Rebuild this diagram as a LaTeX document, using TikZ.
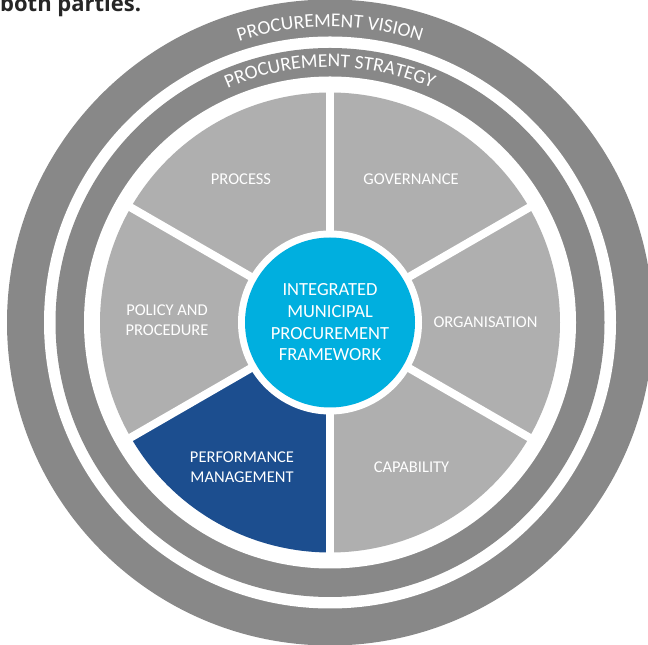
\documentclass[tikz,border=0pt]{standalone}
\usepackage{fontspec}
\setmainfont{Carlito}
\newfontfamily\capfont{Open Sans}
\usetikzlibrary{decorations.text}
\definecolor{ringgray}{RGB}{136,136,136}
\definecolor{seggray}{RGB}{175,175,175}
\definecolor{perfblue}{RGB}{28,78,143}
\definecolor{hubcyan}{RGB}{0,175,223}
\begin{document}
\begin{tikzpicture}[x=1pt,y=1pt,
  seglabel/.style={text=white, font=\fontsize{16.5}{20}\selectfont, align=center, inner sep=0},
  hubnode/.style={circle, fill=hubcyan, minimum size=170, inner sep=0, text=white,
    font=\fontsize{18.5}{21.7}\selectfont, align=center},
  divider/.style={white, line width=8},
  ringtext/.style={decorate, decoration={text along path, text align=center,
    text={|\color{white}\fontsize{19.5}{19.5}\selectfont|#1}}}
]
\useasboundingbox (0,0) rectangle (648,645);
\coordinate (c) at (330,322.5);
% rings
\fill[ringgray] (c) circle[radius=323];
\fill[white] (c) circle[radius=286];
\fill[ringgray] (c) circle[radius=274.5];
\fill[white] (c) circle[radius=246];
% segments
\fill[seggray] (c) -- ++(30:230) arc[start angle=30, end angle=90, radius=230] -- cycle;
\fill[seggray] (c) -- ++(-30:230) arc[start angle=-30, end angle=30, radius=230] -- cycle;
\fill[seggray] (c) -- ++(-90:230) arc[start angle=-90, end angle=-30, radius=230] -- cycle;
\fill[perfblue] (c) -- ++(210:230) arc[start angle=210, end angle=270, radius=230] -- cycle;
\fill[seggray] (c) -- ++(150:230) arc[start angle=150, end angle=210, radius=230] -- cycle;
\fill[seggray] (c) -- ++(90:230) arc[start angle=90, end angle=150, radius=230] -- cycle;
% dividers
\foreach \a in {90,30,-30,-90,-150,150} {
  \draw[divider] (c) -- ++(\a:238);
}
% hub
\fill[white] (c) circle[radius=92];
\node[hubnode] (hub) at (c) {INTEGRATED\\MUNICIPAL\\PROCUREMENT\\FRAMEWORK};
% labels
\node[seglabel] (process) at (241,466) {PROCESS};
\node[seglabel] (governance) at (411,466) {GOVERNANCE};
\node[seglabel] (policy) at (167,325) {POLICY AND\\PROCEDURE};
\node[seglabel] (organisation) at (485.5,323) {ORGANISATION};
\node[seglabel] (performance) at (242,178) {PERFORMANCE\\MANAGEMENT};
\node[seglabel] (capability) at (411.5,178) {CAPABILITY};
% ring texts
\path[ringtext={PROCUREMENT VISION}] ([shift={(c)}]160:295.5) arc[start angle=160, end angle=20, radius=295.5];
\path[ringtext={PROCUREMENT STRATEGY}] ([shift={(c)}]160:255.5) arc[start angle=160, end angle=20, radius=255.5];
% clipped caption
\node[anchor=base west, inner sep=0, font=\capfont\bfseries\fontsize{22}{22}\selectfont, text=black!85] (caption) at (0,633) {both parties.};
\end{tikzpicture}
\end{document}
